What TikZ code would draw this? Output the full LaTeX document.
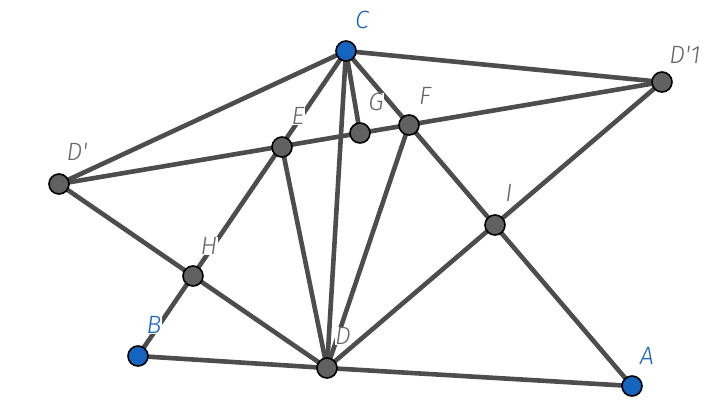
\documentclass[tikz,border=0pt]{standalone}
\usepackage{fontspec}
\newfontfamily\lab{Fira Sans Light Italic}
\definecolor{ln}{HTML}{4D4D4D}
\definecolor{gp}{HTML}{616161}
\definecolor{bp}{HTML}{1565C0}
\definecolor{gl}{HTML}{666666}
\begin{document}
\begin{tikzpicture}[x=1pt,y=-1pt,
  seg/.style={draw=ln,line width=4.6pt},
  pt/.style={circle,draw=black,line width=1.6pt,minimum size=20pt,inner sep=0pt},
  gpt/.style={pt,fill=gp},
  bpt/.style={pt,fill=bp},
  lbl/.style={font=\lab\fontsize{25}{25}\selectfont,fill=white,inner sep=0.5pt},
  glbl/.style={lbl,text=gl},
  blbl/.style={lbl,text=bp}]
\useasboundingbox (0,0) rectangle (706,408);
\coordinate (C) at (346,51);
\coordinate (D1) at (662,82);
\coordinate (Dp) at (59,184);
\coordinate (E) at (282,147);
\coordinate (G) at (360,133);
\coordinate (F) at (409,125);
\coordinate (I) at (495,225);
\coordinate (H) at (193,276);
\coordinate (B) at (138,356);
\coordinate (D) at (327,368);
\coordinate (A) at (632,386);
\draw[seg] (C) -- (D1);
\draw[seg] (C) -- (Dp);
\draw[seg] (C) -- (B);
\draw[seg] (C) -- (G);
\draw[seg] (C) -- (D);
\draw[seg] (C) -- (A);
\draw[seg] (Dp) -- (D1);
\draw[seg] (Dp) -- (D);
\draw[seg] (E) -- (D);
\draw[seg] (F) -- (D);
\draw[seg] (D) -- (D1);
\draw[seg] (B) -- (D);
\draw[seg] (D) -- (A);
\node[blbl] (lC) at (362,20) {C};
\node[glbl] (lD1) at (685,55) {D'1};
\node[glbl] (lDp) at (77,152) {D'};
\node[glbl] (lH) at (209,246) {H};
\node[blbl] (lB) at (154,325) {B};
\node[glbl] (lD) at (343,336) {D};
\node[glbl] (lI) at (509,193) {I};
\node[blbl] (lA) at (647,356) {A};
\node[glbl] (lE) at (298,116) {E};
\node[glbl] (lG) at (376,102) {G};
\node[glbl] (lF) at (425,96) {F};
\node[bpt] (nC) at (C) {};
\node[gpt] (nD1) at (D1) {};
\node[gpt] (nDp) at (Dp) {};
\node[gpt] (nE) at (E) {};
\node[gpt] (nG) at (G) {};
\node[gpt] (nF) at (F) {};
\node[gpt] (nI) at (I) {};
\node[gpt] (nH) at (H) {};
\node[bpt] (nB) at (B) {};
\node[gpt] (nD) at (D) {};
\node[bpt] (nA) at (A) {};
\end{tikzpicture}
\end{document}
